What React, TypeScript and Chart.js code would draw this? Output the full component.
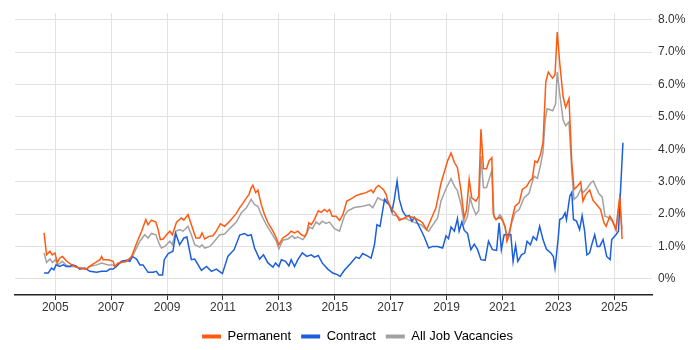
import React, { useEffect, useRef } from "react";
import { Chart, registerables } from "chart.js";

Chart.register(...registerables);

const permYears = [2004.60,2004.69,2004.81,2004.89,2004.99,2005.07,2005.17,2005.26,2005.41,2005.59,2005.70,2005.88,2006.12,2006.21,2006.42,2006.60,2006.66,2006.71,2006.89,2007.07,2007.13,2007.25,2007.55,2007.73,2007.91,2008.09,2008.24,2008.32,2008.44,2008.60,2008.68,2008.76,2008.86,2008.98,2009.10,2009.19,2009.34,2009.51,2009.60,2009.75,2009.87,2010.03,2010.17,2010.25,2010.35,2010.50,2010.64,2010.76,2010.91,2011.06,2011.24,2011.48,2011.60,2011.71,2011.84,2011.93,2012.01,2012.07,2012.17,2012.25,2012.37,2012.49,2012.61,2012.79,2012.91,2013.00,2013.14,2013.32,2013.44,2013.56,2013.68,2013.80,2013.92,2014.00,2014.07,2014.16,2014.27,2014.41,2014.51,2014.63,2014.73,2014.81,2014.91,2015.05,2015.17,2015.29,2015.43,2015.55,2015.64,2015.76,2015.94,2016.12,2016.30,2016.38,2016.48,2016.57,2016.66,2016.74,2016.84,2016.90,2016.95,2017.07,2017.19,2017.31,2017.49,2017.61,2017.79,2018.03,2018.14,2018.29,2018.44,2018.62,2018.80,2018.92,2019.04,2019.16,2019.28,2019.39,2019.52,2019.63,2019.71,2019.81,2019.90,2020.05,2020.15,2020.23,2020.32,2020.43,2020.52,2020.62,2020.67,2020.76,2020.91,2021.00,2021.10,2021.16,2021.24,2021.34,2021.45,2021.60,2021.71,2021.86,2021.98,2022.07,2022.16,2022.25,2022.36,2022.45,2022.55,2022.64,2022.79,2022.88,2022.96,2023.05,2023.17,2023.26,2023.38,2023.48,2023.56,2023.68,2023.80,2023.88,2023.98,2024.12,2024.24,2024.39,2024.51,2024.63,2024.71,2024.84,2024.93,2025.06,2025.20,2025.28];
const permValues = [1.42,0.74,0.85,0.74,0.80,0.50,0.65,0.69,0.54,0.43,0.38,0.33,0.30,0.38,0.49,0.59,0.69,0.59,0.59,0.54,0.38,0.49,0.54,0.69,1.10,1.47,1.83,1.67,1.81,1.75,1.52,1.21,1.23,1.36,1.47,1.36,1.75,1.88,1.81,1.98,1.67,1.26,1.26,1.42,1.23,1.31,1.33,1.47,1.70,1.62,1.78,2.02,2.20,2.33,2.50,2.60,2.81,2.89,2.66,2.74,2.29,1.98,1.73,1.47,1.26,1.05,1.26,1.36,1.47,1.42,1.47,1.36,1.31,1.42,1.73,1.67,1.83,2.10,2.05,2.14,2.07,2.14,1.93,1.93,1.80,1.98,2.40,2.45,2.50,2.57,2.62,2.66,2.74,2.66,2.82,2.88,2.81,2.76,2.60,2.40,2.29,2.12,2.00,1.80,1.88,1.93,1.90,1.80,1.73,1.52,1.83,2.19,2.95,3.30,3.65,3.88,3.59,3.43,2.70,1.88,2.10,3.07,2.50,2.40,2.55,4.62,3.40,3.40,3.64,3.74,2.00,1.83,1.90,1.80,1.60,1.16,1.33,1.85,2.24,2.35,2.76,2.85,3.02,3.10,3.64,3.59,3.84,4.20,6.07,6.38,6.19,6.30,7.62,6.65,5.62,5.29,5.57,3.59,2.76,2.86,2.99,2.40,2.60,2.74,2.42,2.27,2.14,1.73,1.62,1.93,1.81,1.52,2.55,1.23];

const contractYears = [2004.60,2004.75,2004.87,2004.95,2005.03,2005.15,2005.29,2005.40,2005.53,2005.62,2005.74,2005.88,2006.06,2006.24,2006.48,2006.66,2006.84,2006.95,2007.07,2007.19,2007.37,2007.55,2007.67,2007.76,2007.91,2008.03,2008.14,2008.32,2008.50,2008.62,2008.71,2008.84,2008.90,2009.04,2009.21,2009.31,2009.45,2009.60,2009.71,2009.87,2009.99,2010.23,2010.41,2010.59,2010.76,2010.98,2011.18,2011.40,2011.60,2011.77,2011.89,2012.01,2012.13,2012.31,2012.45,2012.61,2012.79,2012.88,2013.00,2013.09,2013.24,2013.36,2013.44,2013.56,2013.68,2013.84,2014.00,2014.16,2014.27,2014.41,2014.55,2014.75,2014.93,2015.11,2015.19,2015.35,2015.55,2015.76,2015.88,2016.00,2016.18,2016.30,2016.42,2016.51,2016.62,2016.78,2016.86,2016.95,2017.05,2017.13,2017.23,2017.31,2017.43,2017.55,2017.67,2017.76,2017.85,2017.97,2018.09,2018.20,2018.36,2018.50,2018.68,2018.86,2018.98,2019.07,2019.16,2019.28,2019.39,2019.45,2019.55,2019.63,2019.75,2019.87,2019.99,2020.11,2020.23,2020.38,2020.50,2020.64,2020.79,2020.88,2020.96,2021.06,2021.30,2021.38,2021.47,2021.55,2021.68,2021.80,2021.88,2022.00,2022.10,2022.22,2022.33,2022.45,2022.57,2022.73,2022.82,2022.88,2022.99,2023.05,2023.15,2023.24,2023.29,2023.41,2023.48,2023.54,2023.65,2023.76,2023.85,2023.94,2024.02,2024.12,2024.21,2024.30,2024.39,2024.48,2024.60,2024.73,2024.85,2024.91,2025.06,2025.15,2025.31];
const contractValues = [0.18,0.18,0.33,0.28,0.43,0.38,0.43,0.38,0.38,0.43,0.40,0.30,0.33,0.23,0.20,0.23,0.23,0.30,0.30,0.38,0.54,0.57,0.54,0.69,0.61,0.43,0.43,0.20,0.20,0.23,0.12,0.12,0.59,0.78,0.85,1.40,1.05,1.26,1.29,0.59,0.61,0.26,0.38,0.23,0.30,0.16,0.70,0.90,1.35,1.40,1.33,1.36,0.95,0.61,0.74,0.49,0.36,0.49,0.38,0.59,0.54,0.40,0.59,0.38,0.59,0.80,0.69,0.74,0.67,0.72,0.49,0.30,0.18,0.12,0.07,0.27,0.46,0.67,0.63,0.78,0.70,0.64,1.05,1.67,1.62,2.45,2.35,2.29,2.09,2.45,3.02,2.45,2.09,1.93,1.95,1.78,1.90,1.70,1.50,1.30,0.95,1.00,1.00,0.95,1.33,1.24,1.60,1.47,1.86,1.47,1.76,1.50,1.40,0.90,1.07,0.90,0.59,0.57,1.16,0.90,0.88,1.73,0.90,1.36,1.37,0.54,1.04,0.54,0.74,0.80,1.16,1.05,1.30,1.20,1.62,1.21,0.92,0.80,0.69,0.33,1.21,1.83,1.88,2.04,1.83,2.55,2.67,1.83,1.78,1.52,1.95,1.47,0.74,0.80,1.10,1.36,1.00,1.00,1.21,0.69,0.59,1.21,1.36,1.47,4.20];

const allYears = [2004.60,2004.69,2004.81,2004.90,2005.00,2005.10,2005.25,2005.38,2005.50,2005.70,2005.88,2006.12,2006.24,2006.48,2006.66,2006.89,2007.07,2007.13,2007.31,2007.55,2007.73,2007.88,2008.03,2008.20,2008.32,2008.44,2008.60,2008.71,2008.80,2008.92,2009.10,2009.19,2009.31,2009.45,2009.57,2009.75,2009.87,2009.99,2010.17,2010.25,2010.35,2010.53,2010.69,2010.88,2011.06,2011.24,2011.48,2011.66,2011.84,2012.01,2012.13,2012.25,2012.37,2012.55,2012.73,2012.91,2013.00,2013.14,2013.32,2013.48,2013.56,2013.68,2013.86,2013.95,2014.10,2014.20,2014.33,2014.45,2014.56,2014.68,2014.81,2014.99,2015.17,2015.35,2015.47,2015.70,2016.00,2016.24,2016.36,2016.54,2016.71,2016.84,2016.95,2017.07,2017.25,2017.37,2017.55,2017.73,2017.91,2018.09,2018.27,2018.36,2018.50,2018.68,2018.80,2018.98,2019.16,2019.28,2019.39,2019.52,2019.63,2019.75,2019.84,2019.93,2020.05,2020.15,2020.23,2020.32,2020.43,2020.52,2020.62,2020.70,2020.79,2020.91,2021.00,2021.10,2021.18,2021.30,2021.45,2021.60,2021.77,2021.95,2022.13,2022.25,2022.36,2022.45,2022.53,2022.60,2022.80,2022.90,2022.96,2023.05,2023.17,2023.26,2023.38,2023.48,2023.56,2023.68,2023.80,2023.88,2024.00,2024.15,2024.25,2024.33,2024.45,2024.57,2024.67,2024.82,2024.93,2025.06,2025.19,2025.28];
const allValues = [0.80,0.50,0.61,0.50,0.59,0.43,0.54,0.43,0.38,0.38,0.33,0.30,0.38,0.43,0.49,0.43,0.43,0.38,0.49,0.54,0.64,0.90,1.16,1.36,1.26,1.40,1.36,1.10,0.95,1.00,1.16,1.05,1.47,1.52,1.47,1.62,1.36,1.05,0.98,1.05,0.95,1.00,1.15,1.36,1.38,1.55,1.75,2.04,2.19,2.45,2.29,2.24,1.98,1.67,1.42,1.16,0.92,1.19,1.23,1.33,1.25,1.29,1.21,1.31,1.60,1.55,1.76,1.68,1.78,1.71,1.75,1.55,1.47,1.95,2.10,2.20,2.24,2.29,2.19,2.50,2.42,2.45,2.29,1.98,1.93,1.84,1.86,1.78,1.72,1.67,1.52,1.47,1.65,1.88,2.40,2.78,3.09,2.86,2.72,2.28,1.70,1.93,2.50,2.24,1.98,2.10,3.79,2.81,2.82,3.07,3.35,1.90,1.83,1.98,1.86,1.55,1.28,1.64,2.04,2.14,2.50,2.64,3.17,3.10,3.50,3.90,4.90,5.25,5.19,5.40,6.38,5.70,4.90,4.72,4.85,3.30,2.45,2.55,2.76,2.66,2.76,2.95,3.02,2.86,2.63,2.52,1.93,1.88,1.78,1.52,2.45,1.52];

const xTickYears = [2005, 2007, 2009, 2011, 2013, 2015, 2017, 2019, 2021, 2023, 2025];
const yTickValues = [0, 1, 2, 3, 4, 5, 6, 7, 8];

const seriesLabels = ["Permanent", "Contract", "All Job Vacancies"];
const seriesColors = ["#ff5a10", "#1b5fdc", "#a2a2a2"];

function toPoints(xs: number[], ys: number[]) {
  return xs.map((x, i) => ({ x, y: ys[i] }));
}

export default function App() {
  const ref = useRef<HTMLCanvasElement | null>(null);

  useEffect(() => {
    if (!ref.current) return;
    Chart.defaults.font.family = "'Liberation Sans', Arial, sans-serif";
    Chart.defaults.color = "#333";
    const sets = [
      toPoints(permYears, permValues),
      toPoints(contractYears, contractValues),
      toPoints(allYears, allValues),
    ];
    const chart = new Chart(ref.current, {
      type: "line",
      data: {
        datasets: sets.map((d, i) => ({
          label: seriesLabels[i],
          data: d,
          borderColor: seriesColors[i],
          backgroundColor: seriesColors[i],
          borderWidth: 1.5,
          pointRadius: 0,
          tension: 0,
          fill: false,
        })),
      },
      options: {
        animation: false,
        responsive: true,
        maintainAspectRatio: false,
        layout: { padding: { left: 15, right: 0, top: 11.5, bottom: -3 } },
        plugins: {
          tooltip: { enabled: false },
          legend: {
            position: "bottom",
            labels: {
              boxWidth: 19,
              boxHeight: 4,
              padding: 10,
              font: { size: 13 },
              color: "#222",
              generateLabels: (c: any) =>
                c.data.datasets.map((ds: any, i: number) => ({
                  text: ds.label,
                  fillStyle: ds.borderColor,
                  strokeStyle: ds.borderColor,
                  lineWidth: 0,
                  hidden: false,
                  datasetIndex: i,
                })),
            },
          },
        },
        scales: {
          x: {
            type: "linear",
            min: 2003.56,
            max: 2026.35,
            afterBuildTicks: (s: any) => {
              s.ticks = xTickYears.map((v) => ({ value: v }));
            },
            afterFit: (s: any) => {
              s.height = 25;
            },
            ticks: {
              font: { size: 12 },
              color: "#333",
              padding: 0,
              maxRotation: 0,
              callback: (v: any) => String(v),
            },
            grid: {
              color: "#e2e2e2",
              tickColor: "#333",
              tickLength: 5,
              lineWidth: 1,
            },
            border: { display: true, color: "#222", width: 1.5 },
          },
          y: {
            position: "right",
            min: -0.5,
            max: 8.2,
            afterBuildTicks: (s: any) => {
              s.ticks = yTickValues.map((v) => ({ value: v }));
            },
            afterFit: (s: any) => {
              s.width = 48;
            },
            ticks: {
              font: { size: 12 },
              color: "#333",
              padding: 6,
              callback: (v: any) => (v === 0 ? "0%" : Number(v).toFixed(1) + "%"),
            },
            grid: { color: "#e2e2e2", drawTicks: false, lineWidth: 1 },
            border: { display: false },
          },
        },
      },
    });
    return () => chart.destroy();
  }, []);

  return (
    <div style={{ position: "fixed", left: 0, top: 0, width: 700, height: 350 }}>
      <canvas ref={ref} />
    </div>
  );
}
